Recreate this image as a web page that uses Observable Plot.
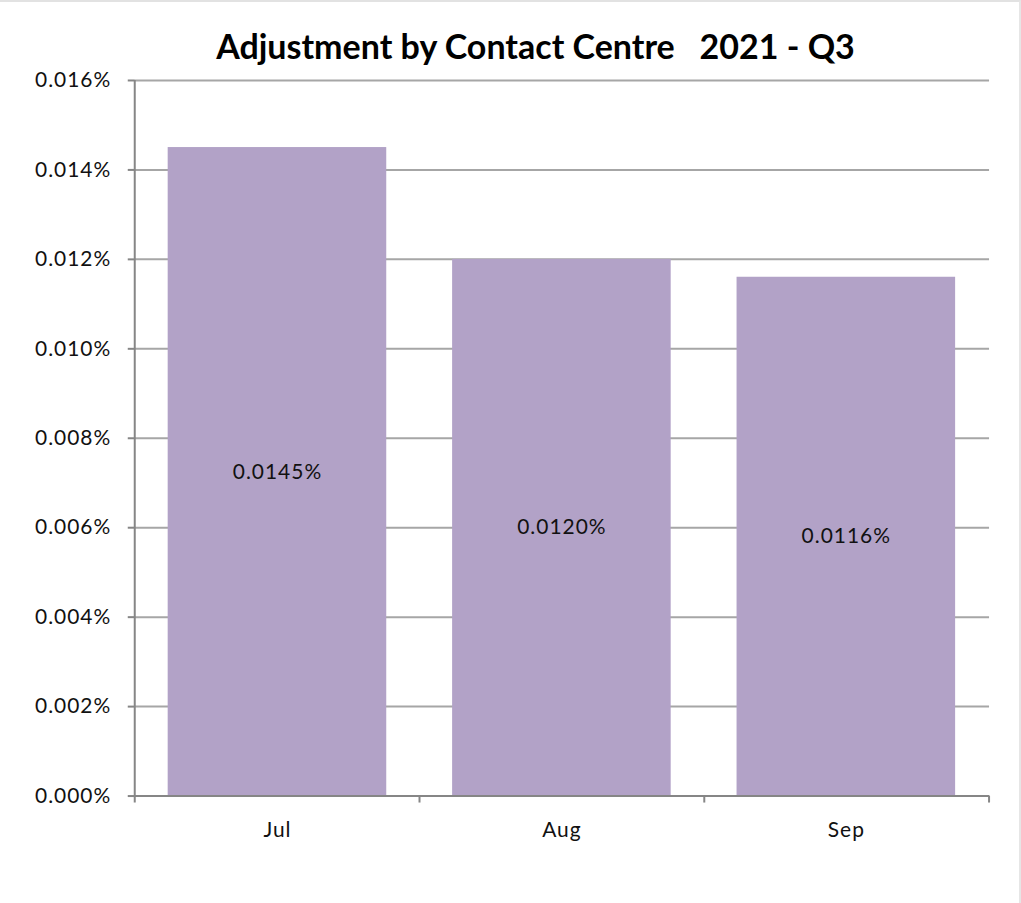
<!DOCTYPE html>
<html>
<head>
<meta charset="utf-8">
<script src="https://cdn.jsdelivr.net/npm/d3@7"></script>
<script src="https://cdn.jsdelivr.net/npm/@observablehq/plot@0.6"></script>
<style>
  html, body { margin: 0; padding: 0; background: #fff; }
  #wrap { position: relative; width: 1021px; height: 903px; overflow: hidden; border-top: 2px solid #e2e2e2; border-right: 2px solid #e6e6e6; box-sizing: border-box; }
  #title { height: 63px; width: 1021px; text-align: center; font-family: Lato, sans-serif; font-weight: bold; font-size: 34px; color: #000; white-space: pre; line-height: 1; padding-top: 27px; box-sizing: border-box; text-indent: 50px; }
  svg { display: block; }
  svg text { letter-spacing: 1px; }
</style>
</head>
<body>
<div id="wrap">
  <div id="title">Adjustment by Contact Centre   2021 - Q3</div>
  <div id="chart"></div>
</div>
<script>
const months = ["Jul", "Aug", "Sep"];
const values = [0.0145, 0.0120, 0.0116];
const yTicks = [0, 0.002, 0.004, 0.006, 0.008, 0.010, 0.012, 0.014, 0.016];

const data = months.map((m, i) => ({month: m, value: values[i]}));
const fmt = d => d.toFixed(3) + "%";
const gridColor = "#a6a6a6";
const axisColor = "#868686";

const chart = Plot.plot({
  width: 1021,
  height: 838,
  marginLeft: 135,
  marginRight: 30,
  marginTop: 15,
  marginBottom: 106,
  style: { fontFamily: "Lato, sans-serif", fontSize: "21px", color: "#111", background: "#fff" },
  x: { domain: months, paddingInner: 0.23, paddingOuter: 0.115, label: null },
  y: { domain: [0, 0.016], label: null },
  marks: [
    Plot.ruleY(yTicks.filter(d => d > 0), { stroke: gridColor, strokeWidth: 2 }),
    Plot.axisY({ ticks: yTicks, tickFormat: fmt, tickSize: 7, tickPadding: 17, stroke: axisColor, strokeWidth: 2, fontSize: 21, label: null }),
    Plot.barY(data, { x: "month", y: "value", fill: "#b2a2c7" }),
    Plot.axisX({ tickSize: 0, tickPadding: 26, fontSize: 21, label: null }),
    Plot.text(data, { x: "month", y: d => d.value / 2, text: d => d.value.toFixed(4) + "%", fontSize: 21, fill: "#111" }),
    Plot.ruleY([0], { stroke: axisColor, strokeWidth: 2 })
  ]
});

document.getElementById("chart").appendChild(chart);

// Excel-style axis line and category-boundary ticks
const xs = chart.scale("x");
const ys = chart.scale("y");
const svg = d3.select(chart);
const [r0, r1] = xs.range;
const yBottom = ys.apply(0), yTop = ys.apply(0.016);
svg.append("line").attr("x1", r0).attr("x2", r0).attr("y1", yTop).attr("y2", yBottom + 7)
  .attr("stroke", axisColor).attr("stroke-width", 2);
const n = months.length;
for (let i = 1; i <= n; i++) {
  const x = r0 + i * (r1 - r0) / n;
  svg.append("line").attr("x1", x).attr("x2", x).attr("y1", yBottom).attr("y2", yBottom + 7)
    .attr("stroke", axisColor).attr("stroke-width", 2);
}
</script>
</body>
</html>
